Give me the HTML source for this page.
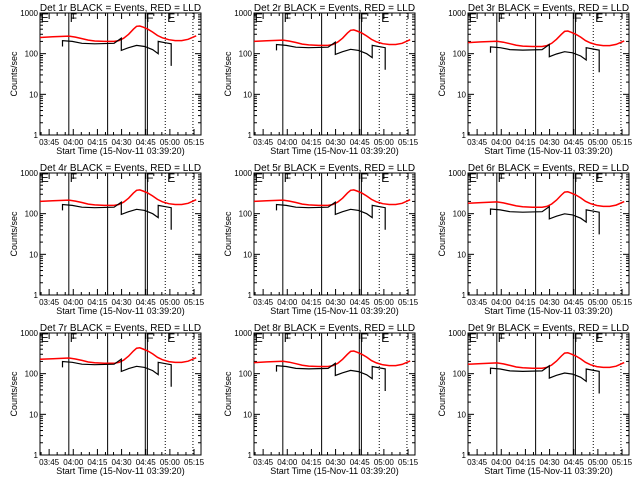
<!DOCTYPE html>
<html><head><meta charset="utf-8"><style>
body{margin:0;background:#fff;width:640px;height:480px;overflow:hidden}
svg text{font-family:"Liberation Sans",sans-serif;fill:#000}
</style></head><body>
<svg id="c" width="640" height="480"></svg>
<script>
const detectors=["1r","2r","3r","4r","5r","6r","7r","8r","9r"];
const redT=[0,8,18,22,26,30,34,40,46,49,52,55,58,60,62,64,67,70,73,76,80,84,88,92,97];
const redV=[250,260,270,255,235,215,205,200,200,210,240,300,400,470,480,450,400,340,280,245,220,210,210,225,275];
const blackT=[14,14,20,26,34,46,50.5,50.5,55,60,65,70,73.4,73.4,78,81.5,81.5];
const blackV=[150,210,200,180,175,180,240,120,140,160,150,125,100,200,185,175,50];
const redScale=[1,0.8,0.75,0.8,0.8,0.72,0.9,0.75,0.68];
const blackScale=[1,0.8,0.7,0.8,0.8,0.62,0.95,0.75,0.65];
const solidLines=[17.9,42,65.4,66.7];
const dottedLines=[77.8,95];
const markLabels=[["E",0.5],["F",18.5],["F",66],["E",79]];
const xTicks=["03:45","04:00","04:15","04:30","04:45","05:00","05:15"];
const yTicks=[1,10,100,1000];
const NS="http://www.w3.org/2000/svg";
const svg=document.getElementById('c');
function mk(tag,attrs,parent){const e=document.createElementNS(NS,tag);for(const k in attrs)e.setAttribute(k,attrs[k]);(parent||svg).appendChild(e);return e;}
detectors.forEach((d,i)=>{
  const ox=(i%3)*214, oy=Math.floor(i/3)*160;
  const L=ox+40,R=ox+201,T=oy+13,B=oy+135;
  const xs=t=>L+(R-L)*t/100;
  const ys=v=>B-(B-T)*Math.log10(v)/3;
  const g=mk('g',{});
  
  
  const ttl=mk('text',{x:(L+R)/2,y:oy+11,'text-anchor':'middle','font-size':'10'},g);
  ttl.textContent='Det '+d+' BLACK = Events, RED = LLD';
  
  
  const box=mk('rect',{x:L,y:T,width:R-L,height:B-T,fill:'none',stroke:'#000','stroke-width':1},g);
  
  
  yTicks.forEach(v=>{
    const y=ys(v);
    mk('line',{x1:L,x2:L+6,y1:y,y2:y,stroke:'#000'},g);
    mk('line',{x1:R-6,x2:R,y1:y,y2:y,stroke:'#000'},g);
    const t=mk('text',{x:L-2,y:y+3,'text-anchor':'end','font-size':'8'},g);
    t.textContent=String(v);
    
    
    if(v<1000)for(let m=2;m<10;m++){const yy=ys(v*m);mk('line',{x1:L,x2:L+3,y1:yy,y2:yy,stroke:'#000'},g);mk('line',{x1:R-3,x2:R,y1:yy,y2:yy,stroke:'#000'},g);}
  });
  const yl=mk('text',{x:0,y:0,'text-anchor':'middle','font-size':'9',transform:`translate(${ox+17},${(T+B)/2}) rotate(-90)`},g);
  yl.textContent='Counts/sec';
  
  
  for(let m=0;m<=100;m+=5){const tm=m+0.667;if(tm>100)break;const x=xs(tm);const len=((m)%15===5)?6:3;
    mk('line',{x1:x,x2:x,y1:B,y2:B-len,stroke:'#000'},g);mk('line',{x1:x,x2:x,y1:T,y2:T+len,stroke:'#000'},g);}
  xTicks.forEach((lab,k)=>{
    const x=xs(5.667+15*k);
    const t=mk('text',{x:x,y:B+10,'text-anchor':'middle','font-size':'8'},g);
    t.textContent=lab;
    
    
  });
  const xl=mk('text',{x:(L+R)/2,y:B+19,'text-anchor':'middle','font-size':'9'},g);
  xl.textContent='Start Time (15-Nov-11 03:39:20)';
  
  
  solidLines.forEach(t=>{const l=mk('line',{x1:xs(t),x2:xs(t),y1:T,y2:B,stroke:'#000'},g);
    });
  dottedLines.forEach(t=>{const l=mk('line',{x1:xs(t),x2:xs(t),y1:T,y2:B,stroke:'#000','stroke-dasharray':'1,2'},g);
    });
  markLabels.forEach(([s,t])=>{const tx=mk('text',{x:xs(t),y:T+9,'font-size':'12'},g);tx.textContent=s;
    });
  const rp=redT.map((t,k)=>xs(t).toFixed(1)+','+ys(redV[k]*redScale[i]).toFixed(1)).join(' ');
  const r=mk('polyline',{points:rp,fill:'none',stroke:'#ff0000','stroke-width':1.5},g);
  
  
  const bp=blackT.map((t,k)=>xs(t).toFixed(1)+','+ys(blackV[k]*blackScale[i]).toFixed(1)).join(' ');
  const b=mk('polyline',{points:bp,fill:'none',stroke:'#000','stroke-width':1.2},g);
  
  
});
</script>
</body></html>
